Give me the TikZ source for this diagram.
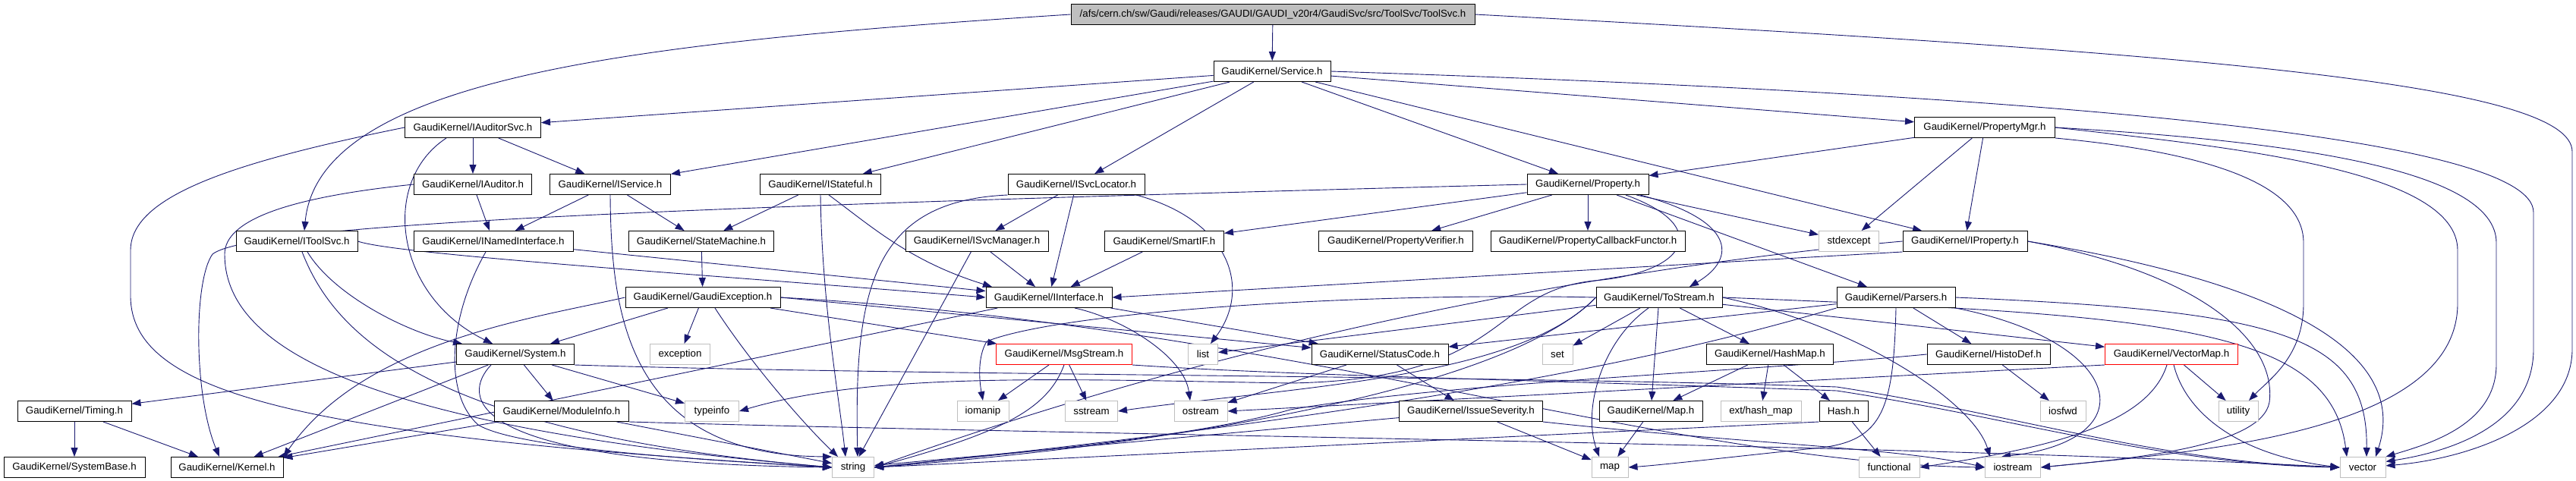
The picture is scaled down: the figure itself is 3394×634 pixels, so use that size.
\documentclass[tikz,border=0pt]{standalone}
\usepackage{fontspec}
\setmainfont{Liberation Sans}
\usetikzlibrary{arrows.meta}
\definecolor{edgeblue}{HTML}{191970}
\definecolor{sysgray}{HTML}{BFBFBF}
\pgfdeclarelayer{bg}
\pgfsetlayers{bg,main}
\begin{document}
\begin{tikzpicture}[x=1pt, y=-1pt,
  hbox/.style={draw=black, line width=1pt, fill=white, minimum height=27pt, inner xsep=3pt, inner ysep=0pt, font=\fontsize{13.3}{15}\selectfont},
  sysbox/.style={hbox, draw=sysgray},
  redbox/.style={hbox, draw=red},
  rootbox/.style={hbox, fill=sysgray},
  dep/.style={draw=edgeblue, line width=0.9pt, -{Triangle[length=12pt,width=9pt]}}]
\useasboundingbox (0,0) rectangle (3394,634);

\node[rootbox, minimum width=532pt] (root) at (1677,19) {/afs/cern.ch/sw/Gaudi/releases/GAUDI/GAUDI\_v20r4/GaudiSvc/src/ToolSvc/ToolSvc.h};
\node[hbox, minimum width=154pt] (service) at (1676,94) {GaudiKernel/Service.h};

\node[hbox, minimum width=179pt] (iauditorsvc) at (623,168) {GaudiKernel/IAuditorSvc.h};
\node[hbox, minimum width=185pt] (propertymgr) at (2615,168) {GaudiKernel/PropertyMgr.h};

\node[hbox, minimum width=155pt] (iauditor) at (623,243) {GaudiKernel/IAuditor.h};
\node[hbox, minimum width=159pt] (iservice) at (804,243) {GaudiKernel/IService.h};
\node[hbox, minimum width=159pt] (istateful) at (1081,243) {GaudiKernel/IStateful.h};
\node[hbox, minimum width=180pt] (isvclocator) at (1418,243) {GaudiKernel/ISvcLocator.h};
\node[hbox, minimum width=160pt] (property) at (2092,243) {GaudiKernel/Property.h};

\node[hbox, minimum width=160pt] (itoolsvc) at (391,318) {GaudiKernel/IToolSvc.h};
\node[hbox, minimum width=210pt] (inamedinterface) at (650,318) {GaudiKernel/INamedInterface.h};
\node[hbox, minimum width=191pt] (statemachine) at (924,318) {GaudiKernel/StateMachine.h};
\node[hbox, minimum width=188pt] (isvcmanager) at (1287,318) {GaudiKernel/ISvcManager.h};
\node[hbox, minimum width=157pt] (smartif) at (1534,318) {GaudiKernel/SmartIF.h};
\node[hbox, minimum width=203pt] (propertyverifier) at (1839,318) {GaudiKernel/PropertyVerifier.h};
\node[hbox, minimum width=256pt] (propertycallbackfunctor) at (2092,318) {GaudiKernel/PropertyCallbackFunctor.h};
\node[sysbox, minimum width=79pt] (stdexcept) at (2436,318) {stdexcept};
\node[hbox, minimum width=164pt] (iproperty) at (2589,318) {GaudiKernel/IProperty.h};

\node[hbox, minimum width=204pt] (gaudiexception) at (926,392) {GaudiKernel/GaudiException.h};
\node[hbox, minimum width=166pt] (iinterface) at (1382,392) {GaudiKernel/IInterface.h};
\node[hbox, minimum width=166pt] (tostream) at (2186,392) {GaudiKernel/ToStream.h};
\node[hbox, minimum width=156pt] (parsers) at (2498,392) {GaudiKernel/Parsers.h};

\node[hbox, minimum width=155pt] (system) at (679,467) {GaudiKernel/System.h};
\node[sysbox, minimum width=79pt] (exception) at (896,467) {exception};
\node[redbox, minimum width=179pt] (msgstream) at (1402,467) {GaudiKernel/MsgStream.h};
\node[sysbox, minimum width=39pt] (list) at (1585,467) {list};
\node[hbox, minimum width=180pt] (statuscode) at (1818,467) {GaudiKernel/StatusCode.h};
\node[sysbox, minimum width=40pt] (set) at (2052,467) {set};
\node[hbox, minimum width=167pt] (hashmap) at (2332,467) {GaudiKernel/HashMap.h};
\node[hbox, minimum width=162pt] (histodef) at (2620,467) {GaudiKernel/HistoDef.h};
\node[redbox, minimum width=175pt] (vectormap) at (2861,467) {GaudiKernel/VectorMap.h};

\node[hbox, minimum width=150pt] (timing) at (98,542) {GaudiKernel/Timing.h};
\node[hbox, minimum width=177pt] (moduleinfo) at (740,542) {GaudiKernel/ModuleInfo.h};
\node[sysbox, minimum width=71pt] (typeinfo) at (938,542) {typeinfo};
\node[sysbox, minimum width=68pt] (iomanip) at (1295,542) {iomanip};
\node[sysbox, minimum width=69pt] (sstream) at (1438,542) {sstream};
\node[sysbox, minimum width=70pt] (ostream) at (1582,542) {ostream};
\node[hbox, minimum width=189pt] (issueseverity) at (1938,542) {GaudiKernel/IssueSeverity.h};
\node[hbox, minimum width=136pt] (maph) at (2175,542) {GaudiKernel/Map.h};
\node[sysbox, minimum width=106pt] (hashmapext) at (2320,542) {ext/hash\_map};
\node[hbox, minimum width=64pt] (hash) at (2429,542) {Hash.h};
\node[sysbox, minimum width=60pt] (iosfwd) at (2718,542) {iosfwd};
\node[sysbox, minimum width=52pt] (utility) at (2949,542) {utility};

\node[hbox, minimum width=186pt] (systembase) at (98,616) {GaudiKernel/SystemBase.h};
\node[hbox, minimum width=148pt] (kernel) at (299,616) {GaudiKernel/Kernel.h};
\node[sysbox, minimum width=55pt] (string) at (1124,616) {string};
\node[sysbox, minimum width=48pt] (map) at (2121,616) {map};
\node[sysbox, minimum width=80pt] (functional) at (2489,616) {functional};
\node[sysbox, minimum width=73pt] (iostream) at (2652,616) {iostream};
\node[sysbox, minimum width=60pt] (vector) at (3113,616) {vector};

\begin{pgfonlayer}{bg}
\draw[dep] (root) -- (service);
\draw[dep] (root.west) .. controls (850,55) and (420,100) .. ([xshift=10pt]itoolsvc.north);
\draw[dep] (root.east) .. controls (2900,70) and (3389,110) .. (3389,200) -- (3389,460) .. controls (3389,560) and (3250,605) .. (vector.4);

\draw[dep] (service) -- (iauditorsvc);
\draw[dep] (service) -- (iservice);
\draw[dep] (service) -- (istateful);
\draw[dep] (service) -- (isvclocator);
\draw[dep] (service) -- (property);
\draw[dep] (service) -- (propertymgr);
\draw[dep] (service) -- (iproperty);
\draw[dep] (service.east) .. controls (2700,125) and (3338,180) .. (3338,280) -- (3338,460) .. controls (3338,560) and (3230,595) .. (vector.14);

\draw[dep] (iauditorsvc) -- (iauditor);
\draw[dep] (iauditorsvc) -- (iservice);
\draw[dep] ([xshift=-35pt]iauditorsvc.south) .. controls (500,240) and (520,390) .. ([xshift=-30pt]system.north);
\draw[dep] (iauditorsvc.west) .. controls (300,215) and (172,260) .. (172,330) -- (172,390) .. controls (172,520) and (400,575) .. (string.west);
\draw[dep] (iauditor) -- (inamedinterface);
\draw[dep] (iauditor.west) .. controls (380,260) and (296,290) .. (296,335) .. controls (296,450) and (450,560) .. (string.west);
\draw[dep] (iservice) -- (inamedinterface);
\draw[dep] (iservice) -- (statemachine);
\draw[dep] (iservice.south) .. controls (805,420) and (830,600) .. (string.north west);
\draw[dep] (istateful) -- (statemachine);
\draw[dep] ([xshift=11pt]istateful.south) .. controls (1150,300) and (1200,345) .. ([xshift=-75pt]iinterface.north);
\draw[dep] (istateful.south) .. controls (1083,400) and (1105,520) .. ([xshift=-10pt]string.north);
\draw[dep] (isvclocator) -- (isvcmanager);
\draw[dep] (isvclocator) -- (iinterface);
\draw[dep] ([xshift=79pt]isvclocator.south) .. controls (1620,290) and (1650,380) .. ([xshift=10pt]list.north);
\draw[dep] (isvclocator.south west) .. controls (1150,265) and (1125,380) .. ([xshift=6pt]string.north);

\draw[dep] (property.west) .. controls (900,272) and (330,295) .. (280,335) .. controls (255,370) and (255,520) .. ([xshift=-10pt]kernel.north);
\draw[dep] (property) -- (smartif);
\draw[dep] (property) -- (propertyverifier);
\draw[dep] (property) -- (propertycallbackfunctor);
\draw[dep] (property) -- (stdexcept);
\draw[dep] (property) -- (parsers);
\draw[dep] ([xshift=69pt]property.south) .. controls (2285,290) and (2290,340) .. ([xshift=40pt]tostream.north);
\draw[dep] ([xshift=50pt]property.south) .. controls (2260,300) and (2220,360) .. (2100,370) .. controls (1960,385) and (1990,500) .. (1700,505) .. controls (1400,500) and (1150,490) .. (typeinfo.east);
\draw[dep] (propertymgr) -- (property);
\draw[dep] (propertymgr) -- (stdexcept);
\draw[dep] (propertymgr) -- (iproperty);
\draw[dep] (propertymgr.east) .. controls (3000,185) and (3289,220) .. (3289,320) -- (3289,480) .. controls (3289,560) and (3200,585) .. (vector.north east);
\draw[dep] (propertymgr.east) .. controls (2950,195) and (3238,225) .. (3238,330) -- (3238,400) .. controls (3238,570) and (2900,595) .. (iostream.east);
\draw[dep] (propertymgr.south east) .. controls (2900,200) and (3035,240) .. (3035,320) -- (3035,400) .. controls (3035,470) and (2990,500) .. ([xshift=14pt]utility.north);

\draw[dep] (itoolsvc.east) .. controls (520,335) and (900,360) .. (iinterface.west);
\draw[dep] ([xshift=14pt]itoolsvc.south) .. controls (440,390) and (540,440) .. ([xshift=-70pt]system.north);
\draw[dep] ([xshift=7pt]itoolsvc.south) .. controls (440,440) and (560,570) .. (string.west);
\draw[dep] (inamedinterface) -- (iinterface);
\draw[dep] ([xshift=-10pt]inamedinterface.south) .. controls (590,420) and (585,520) .. (630,560) .. controls (680,590) and (900,605) .. (string.west);
\draw[dep] (statemachine) -- (gaudiexception);
\draw[dep] (isvcmanager) -- (iinterface);
\draw[dep] (isvcmanager) -- (string);
\draw[dep] (smartif) -- (iinterface);
\draw[dep] (iproperty.south west) -- (iinterface.east);
\draw[dep] (iproperty.west) .. controls (2200,345) and (1700,420) .. (string.east);
\draw[dep] (iproperty.east) .. controls (3050,380) and (3170,480) .. ([xshift=17pt]vector.north);
\draw[dep] (iproperty.east) .. controls (2900,360) and (3000,450) .. (2990,530) .. controls (2980,590) and (2800,605) .. (iostream.east);

\draw[dep] (gaudiexception.west) .. controls (700,420) and (480,450) .. (kernel.north east);
\draw[dep] (gaudiexception) -- (system);
\draw[dep] (gaudiexception) -- (exception);
\draw[dep] ([xshift=16pt]gaudiexception.south) .. controls (990,480) and (1060,560) .. ([xshift=-20pt]string.north);
\draw[dep] (gaudiexception.east) -- (statuscode);
\draw[dep] (gaudiexception) -- (msgstream);
\draw[dep] (gaudiexception.east) .. controls (1700,430) and (2200,610) .. (iostream.west);
\draw[dep] (iinterface) -- (kernel);
\draw[dep] (iinterface) -- (statuscode);
\draw[dep] ([xshift=34pt]iinterface.south) .. controls (1480,420) and (1560,470) .. ([xshift=-14pt]ostream.north);

\draw[dep] (tostream.west) .. controls (1800,385) and (1400,410) .. (1300,450) .. controls (1288,470) and (1290,500) .. (iomanip.north);
\draw[dep] (tostream.west) .. controls (2000,500) and (1700,510) .. (sstream.east);
\draw[dep] (tostream) -- (list);
\draw[dep] (tostream.west) .. controls (1980,520) and (1500,590) .. (string.east);
\draw[dep] (tostream) -- (set);
\draw[dep] ([xshift=-14pt]tostream.south) .. controls (2110,450) and (2085,540) .. ([xshift=-14pt]map.north);
\draw[dep] (tostream) -- (maph);
\draw[dep] (tostream) -- (hashmap);
\draw[dep] (tostream) -- (vectormap);
\draw[dep] (tostream.east) .. controls (2450,430) and (2600,530) .. ([xshift=-30pt]iostream.north);
\draw[dep] (tostream.east) .. controls (2850,415) and (3070,430) .. ([xshift=-21pt]vector.north);
\draw[dep] (parsers) -- (histodef);
\draw[dep] (parsers) -- (statuscode);
\draw[dep] (parsers.south west) .. controls (2300,440) and (2000,530) .. (string.east);
\draw[dep] (parsers.east) .. controls (3000,410) and (3120,440) .. ([xshift=5pt]vector.north);
\draw[dep] (parsers.south) .. controls (2495,540) and (2480,580) .. (2400,590) .. controls (2300,600) and (2200,612) .. (map.east);
\draw[dep] (parsers.south east) .. controls (2800,450) and (2830,580) .. ([xshift=-15pt]iostream.north);

\draw[dep] (system) -- (timing);
\draw[dep] (system) -- (kernel);
\draw[dep] (system) -- (moduleinfo);
\draw[dep] (system) -- (typeinfo);
\draw[dep] ([xshift=-32pt]system.south) .. controls (610,520) and (600,610) .. (string.west);
\draw[dep] (system.south east) .. controls (1200,495) and (2000,495) .. (2420,510) .. controls (2650,545) and (2850,610) .. (vector.west);
\draw[dep] (msgstream) -- (iomanip);
\draw[dep] (msgstream) -- (sstream);
\draw[dep] (msgstream.south) .. controls (1380,540) and (1320,570) .. (string.east);
\draw[dep] (msgstream.south east) .. controls (1700,495) and (2000,500) .. (2420,515) .. controls (2650,550) and (2850,612) .. (vector.west);
\draw[dep] (statuscode) -- (ostream);
\draw[dep] (statuscode) -- (issueseverity);
\draw[dep] (hashmap) -- (maph);
\draw[dep] (hashmap) -- (hashmapext);
\draw[dep] (hashmap) -- (hash);
\draw[dep] (histodef) -- (iosfwd);
\draw[dep] (histodef.west) .. controls (2300,490) and (1900,505) .. (1700,540) .. controls (1560,580) and (1300,600) .. (string.east);
\draw[dep] (vectormap) -- (utility);
\draw[dep] ([xshift=3pt]vectormap.south) .. controls (2880,545) and (2950,600) .. (vector.west);
\draw[dep] ([xshift=-6pt]vectormap.south) .. controls (2830,560) and (2700,590) .. (functional.east);
\draw[dep] (vectormap.south west) -- (ostream.east);

\draw[dep] (timing) -- (systembase);
\draw[dep] (timing) -- (kernel);
\draw[dep] (moduleinfo) -- (kernel);
\draw[dep] (moduleinfo) -- (string);
\draw[dep] (moduleinfo.south east) .. controls (1500,575) and (2500,585) .. (vector.west);
\draw[dep] (issueseverity) -- (map);
\draw[dep] (issueseverity) -- (string);
\draw[dep] (issueseverity.south east) .. controls (2300,585) and (2500,590) .. (iostream.west);
\draw[dep] (maph) -- (map);
\draw[dep] (hash) -- (functional);
\draw[dep] (hash.south west) -- (string.east);
\end{pgfonlayer}
\end{tikzpicture}
\end{document}
